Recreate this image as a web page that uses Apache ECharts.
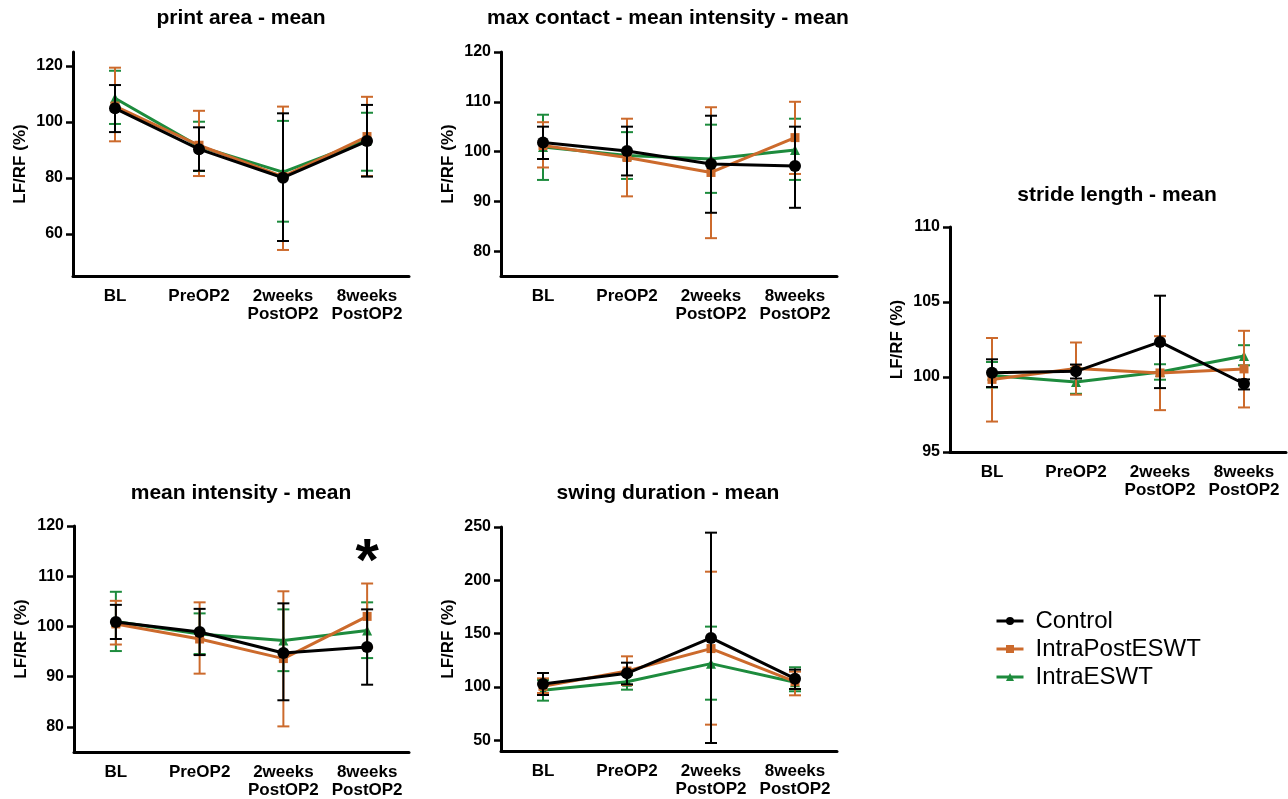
<!DOCTYPE html>
<html>
<head>
<meta charset="utf-8">
<script src="https://cdn.jsdelivr.net/npm/echarts@6/dist/echarts.min.js"></script>
<style>
html,body{margin:0;padding:0;background:#fff;}
#chart{width:1288px;height:799px;}
</style>
</head>
<body>
<div id="chart"></div>
<script>
// ---------- DATA ----------
const categories = ['BL', 'PreOP2', '2weeks\nPostOP2', '8weeks\nPostOP2'];
const groupNames = ['Control', 'IntraPostESWT', 'IntraESWT'];

const panelTitles = ['print area - mean', 'max contact - mean intensity - mean', 'stride length - mean', 'mean intensity - mean', 'swing duration - mean'];

// print area - mean
const paControl = [104.9, 90.3, 80.1, 93.2];
const paControlErr = [[96.4, 113.2], [82.6, 98.1], [57.5, 103.1], [80.5, 106.1]];
const paPost = [105.7, 91.7, 80.5, 94.8];
const paPostErr = [[93.1, 119.4], [80.7, 104.0], [54.3, 105.5], [80.7, 109.0]];
const paIntra = [108.5, 91.3, 82.1, 93.5];
const paIntraErr = [[99.3, 118.3], [82.5, 100.1], [64.4, 100.4], [82.6, 103.3]];
const paTicks = [60, 80, 100, 120];

// max contact - mean intensity - mean
const mcControl = [101.8, 100.1, 97.5, 97.1];
const mcControlErr = [[98.5, 105.0], [95.2, 105.0], [87.7, 107.2], [88.7, 105.0]];
const mcPost = [101.2, 98.8, 95.8, 102.8];
const mcPostErr = [[96.8, 105.9], [91.0, 106.6], [82.6, 108.9], [95.5, 110.0]];
const mcIntra = [100.9, 99.2, 98.5, 100.3];
const mcIntraErr = [[94.3, 107.4], [94.5, 103.9], [91.7, 105.4], [94.3, 106.6]];
const mcTicks = [80, 90, 100, 110, 120];

// stride length - mean
const slControl = [100.29, 100.38, 102.34, 99.55];
const slControlErr = [[99.33, 101.18], [99.9, 100.83], [99.26, 105.42], [99.17, 99.84]];
const slPost = [99.84, 100.56, 100.27, 100.54];
const slPostErr = [[97.03, 102.6], [98.82, 102.3], [97.79, 102.72], [97.97, 103.08]];
const slIntra = [100.1, 99.67, 100.33, 101.4];
const slIntraErr = [[99.3, 101.0], [98.88, 100.6], [99.82, 100.85], [100.78, 102.12]];
const slTicks = [95, 100, 105, 110];

// mean intensity - mean
const miControl = [100.9, 98.9, 94.7, 95.9];
const miControlErr = [[97.5, 104.3], [94.3, 103.5], [85.3, 104.6], [88.4, 103.4]];
const miPost = [100.5, 97.5, 93.6, 102.0];
const miPostErr = [[96.4, 105.1], [90.6, 104.8], [80.1, 107.0], [95.8, 108.55]];
const miIntra = [101.0, 98.5, 97.2, 99.2];
const miIntraErr = [[95.1, 106.9], [94.5, 102.6], [91.1, 103.4], [93.7, 104.8]];
const miTicks = [80, 90, 100, 110, 120];

// swing duration - mean
const sdControl = [102.8, 112.8, 146.0, 107.8];
const sdControlErr = [[92.5, 113.1], [102.5, 122.8], [47.5, 244.7], [98.1, 116.3]];
const sdPost = [100.6, 115.0, 136.0, 105.0];
const sdPostErr = [[94.4, 108.1], [101.9, 128.75], [64.7, 208.1], [92.2, 114.4]];
const sdIntra = [96.9, 105.0, 121.9, 104.5];
const sdIntraErr = [[87.2, 106.6], [97.5, 111.3], [88.1, 156.6], [96.0, 118.5]];
const sdTicks = [50, 100, 150, 200, 250];

// significance annotation
const sigPanel = 3;
const sigCategory = '8weeks\nPostOP2';
const sigValue = 112.6;
const sigText = '*';

// ---------- LAYOUT / STYLE ----------
const FONT = "'Liberation Sans', Arial, Helvetica, sans-serif";
const colors = ['#000000', '#cc6a2c', '#1d8b3d'];
const symbols = ['circle', 'rect', 'triangle'];
const symbolSizes = [12, 9, 10];
const zs = [6, 4, 2];

const panels = [
  { grid: { left: 73, top: 52, width: 336, height: 224 }, min: 45, max: 125, ticks: paTicks,
    means: [paControl, paPost, paIntra], errs: [paControlErr, paPostErr, paIntraErr], titleX: 241, titleY: 8 },
  { grid: { left: 501, top: 52, width: 336, height: 224 }, min: 75, max: 120, ticks: mcTicks,
    means: [mcControl, mcPost, mcIntra], errs: [mcControlErr, mcPostErr, mcIntraErr], titleX: 668, titleY: 8 },
  { grid: { left: 950, top: 227, width: 336, height: 225 }, min: 95, max: 110, ticks: slTicks,
    means: [slControl, slPost, slIntra], errs: [slControlErr, slPostErr, slIntraErr], titleX: 1117, titleY: 185 },
  { grid: { left: 74, top: 526, width: 335, height: 226 }, min: 75, max: 120, ticks: miTicks,
    means: [miControl, miPost, miIntra], errs: [miControlErr, miPostErr, miIntraErr], titleX: 241, titleY: 483 },
  { grid: { left: 501, top: 527, width: 336, height: 224 }, min: 40, max: 250, ticks: sdTicks,
    means: [sdControl, sdPost, sdIntra], errs: [sdControlErr, sdPostErr, sdIntraErr], titleX: 668, titleY: 483 }
];

function makeErrRender(color) {
  return function (params, api) {
    const x = api.value(0);
    const pLo = api.coord([x, api.value(1)]);
    const pHi = api.coord([x, api.value(2)]);
    const hw = 6;
    const st = { stroke: color, lineWidth: 2 };
    return {
      type: 'group',
      children: [
        { type: 'line', shape: { x1: pLo[0], y1: pLo[1], x2: pHi[0], y2: pHi[1] }, style: st },
        { type: 'line', shape: { x1: pLo[0] - hw, y1: pLo[1], x2: pLo[0] + hw, y2: pLo[1] }, style: st },
        { type: 'line', shape: { x1: pHi[0] - hw, y1: pHi[1], x2: pHi[0] + hw, y2: pHi[1] }, style: st }
      ]
    };
  };
}

const grids = [], xAxes = [], yAxes = [], series = [], titles = [];
panels.forEach((p, i) => {
  grids.push(Object.assign({ containLabel: false }, p.grid));
  titles.push({
    text: panelTitles[i], left: p.titleX, top: p.titleY, textAlign: 'center', padding: 0,
    textStyle: { fontFamily: FONT, fontWeight: 'bold', fontSize: 21, color: '#000' }
  });
  xAxes.push({
    type: 'category', gridIndex: i, data: categories, boundaryGap: true,
    axisLine: { onZero: false, lineStyle: { color: '#000', width: 3 } },
    axisTick: { alignWithLabel: true, length: 7, lineStyle: { color: '#000', width: 2.5 } },
    axisLabel: { color: '#000', fontFamily: FONT, fontWeight: 'bold', fontSize: 17, lineHeight: 18, margin: 11, interval: 0 },
    splitLine: { show: false }
  });
  yAxes.push({
    type: 'value', gridIndex: i, min: p.min, max: p.max,
    name: 'LF/RF (%)', nameLocation: 'middle', nameGap: 44,
    nameTextStyle: { color: '#000', fontFamily: FONT, fontWeight: 'bold', fontSize: 17 },
    axisLine: { show: true, onZero: false, lineStyle: { color: '#000', width: 3 } },
    axisTick: { show: true, length: 7, customValues: p.ticks, lineStyle: { color: '#000', width: 2.5 } },
    axisLabel: { customValues: p.ticks, color: '#000', fontFamily: FONT, fontWeight: 'bold', fontSize: 16, margin: 10 },
    splitLine: { show: false }
  });
  for (let g = 2; g >= 0; g--) {
    series.push({
      name: groupNames[g] + ' SD', type: 'custom', xAxisIndex: i, yAxisIndex: i,
      renderItem: makeErrRender(colors[g]), z: zs[g] - 1, silent: true,
      encode: { x: 0, y: [1, 2] },
      data: p.errs[g].map((e, k) => [k, e[0], e[1]])
    });
    series.push({
      name: groupNames[g], type: 'line', xAxisIndex: i, yAxisIndex: i,
      data: p.means[g], symbol: symbols[g], symbolSize: symbolSizes[g], z: zs[g],
      itemStyle: { color: colors[g] }, lineStyle: { color: colors[g], width: 3 },
      showAllSymbol: true, animation: false, silent: true
    });
  }
});

const chart = echarts.init(document.getElementById('chart'), null, { renderer: 'canvas' });
chart.setOption({
  animation: false,
  backgroundColor: '#ffffff',
  title: titles,
  grid: grids,
  xAxis: xAxes,
  yAxis: yAxes,
  legend: {
    data: groupNames, orient: 'vertical', left: 995, top: 607, padding: 0,
    itemWidth: 27, itemHeight: 10, itemGap: 0, selectedMode: false,
    lineStyle: { width: 3 },
    textStyle: { fontFamily: FONT, fontSize: 24, color: '#000', lineHeight: 28, padding: [0, 0, 0, 7] }
  },
  series: series
});

const sigPos = chart.convertToPixel({ xAxisIndex: sigPanel, yAxisIndex: sigPanel }, [sigCategory, sigValue]);
chart.setOption({
  graphic: [{
    type: 'text', x: sigPos[0], y: sigPos[1],
    style: { text: sigText, fontFamily: FONT, fontWeight: 'bold', fontSize: 60, fill: '#000', textAlign: 'center', textVerticalAlign: 'middle' }
  }]
});
</script>
</body>
</html>
